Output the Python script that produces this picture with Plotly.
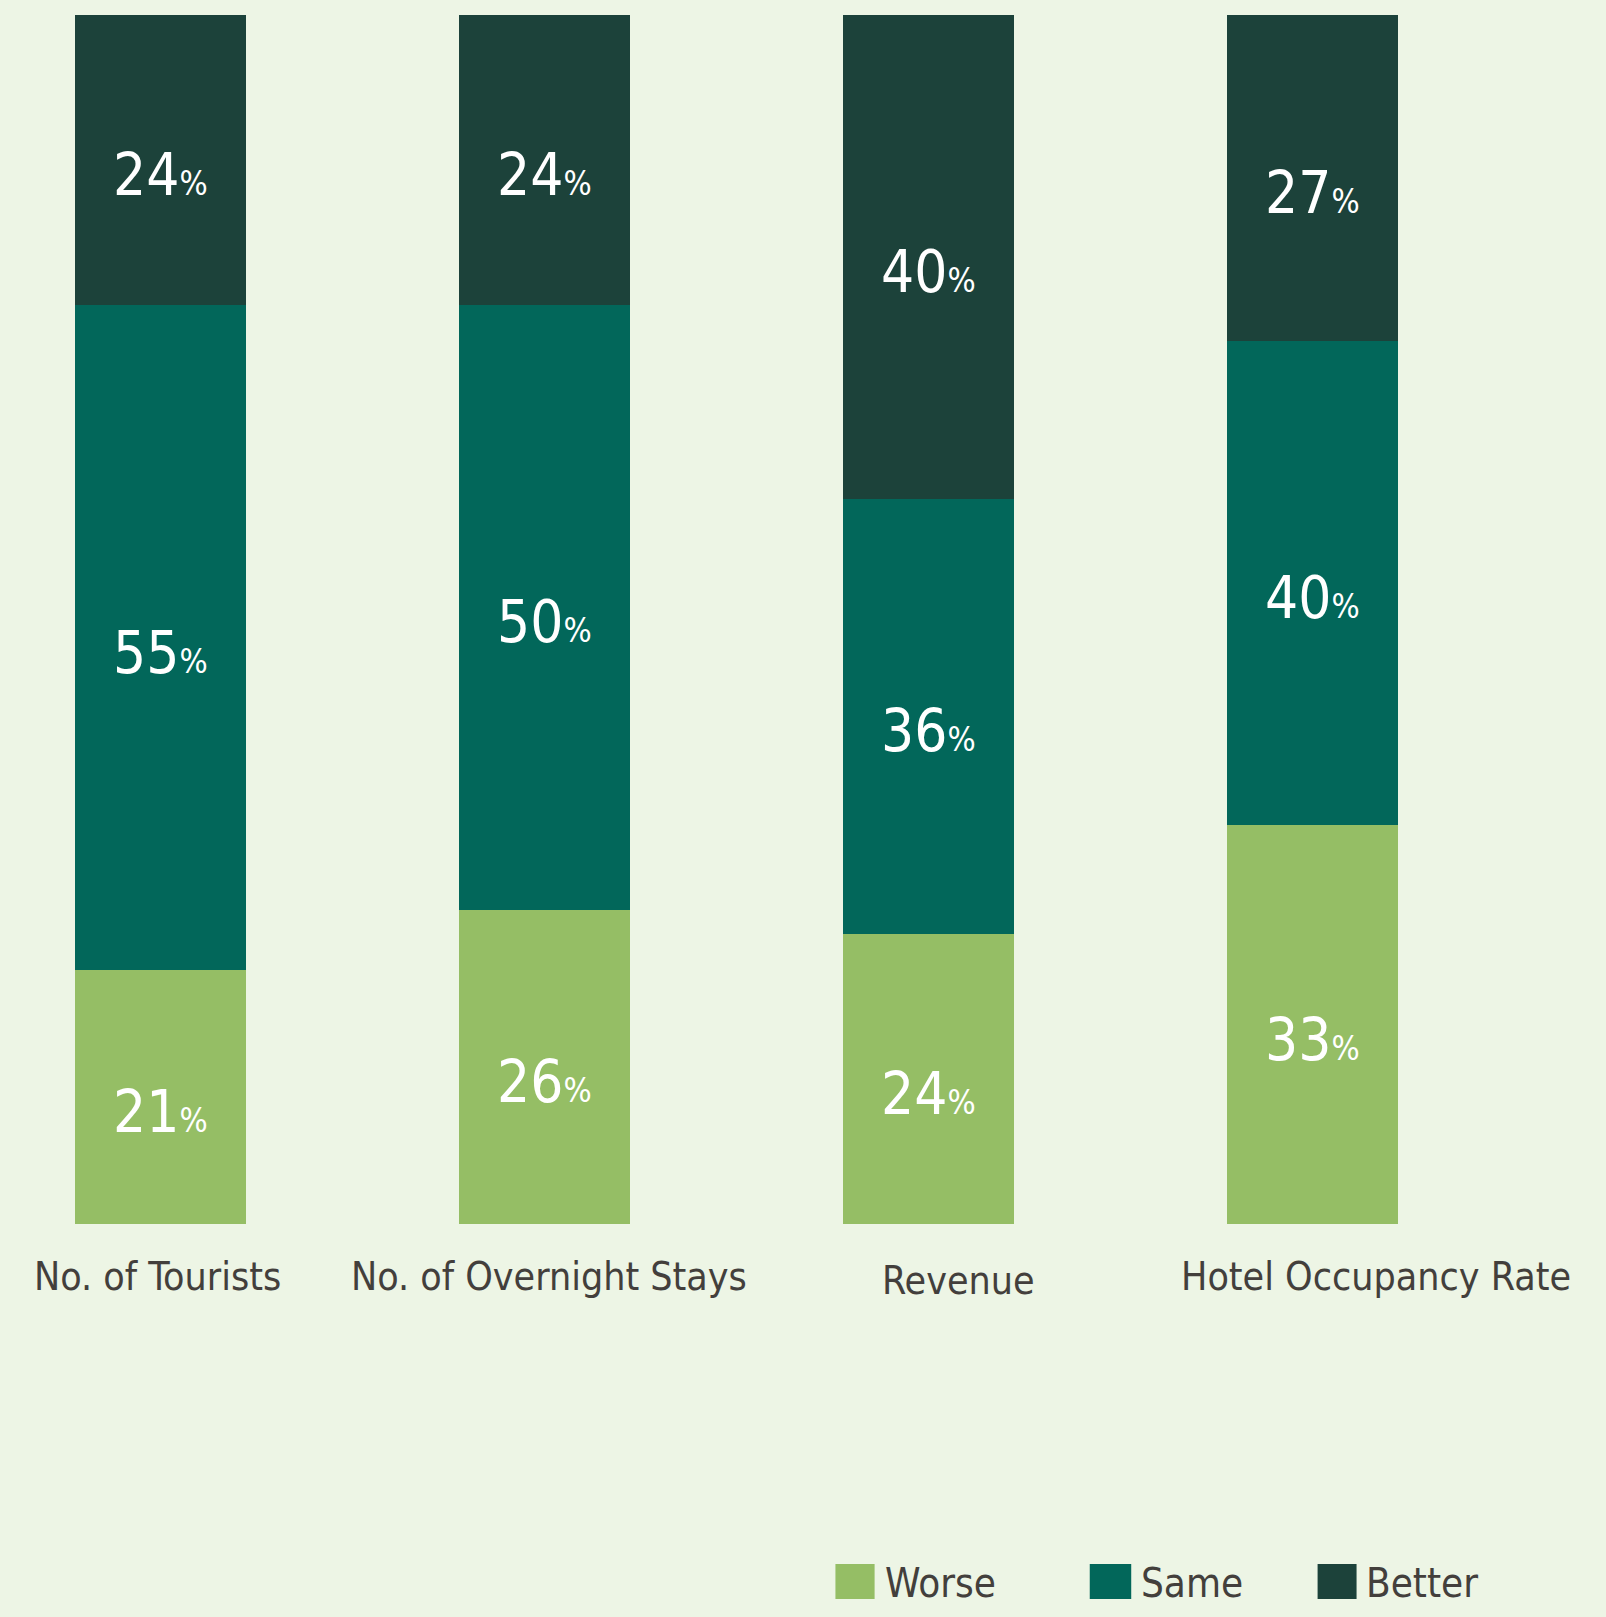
import plotly.graph_objects as go

categories = ["No. of Tourists", "No. of Overnight Stays", "Revenue", "Hotel Occupancy Rate"]
worse = [21, 26, 24, 33]
same = [55, 50, 36, 40]
better = [24, 24, 40, 27]
series_names = ["Worse", "Same", "Better"]
colors = ["#95BE65", "#02675A", "#1C423A"]
BG = "#EDF5E5"
TXT = "#433F3C"
FONT = "DejaVu Sans Condensed, DejaVu Sans, sans-serif"

# layout geometry (pixels)
L, W, T, H = 25.5, 1422.0, 15.0, 1209.0
FIG_W, FIG_H = 1606, 1617


def pxx(x):
    return (x - L) / W


def pxy(y):
    return (T + H - y) / H


fig = go.Figure()
series = [worse, same, better]
for name, vals, col in zip(series_names, series, colors):
    fig.add_trace(go.Bar(x=categories, y=vals, name=name, marker=dict(color=col, line=dict(width=0)),
                         width=0.445, showlegend=False))

annotations = []
# value labels
for i, cat in enumerate(categories):
    base = 0
    for vals in series:
        v = vals[i]
        annotations.append(dict(
            x=cat, y=base + v / 2, xref="x", yref="y", yshift=-15, showarrow=False,
            text=f"{v}<span style='font-size:33px'>%</span>",
            font=dict(family=FONT, size=58, color="white"),
        ))
        base += v

# category labels
label_shift = [-3, 5, 30, 63]
label_y = [1276, 1276, 1280, 1276]
for cat, dx, ly in zip(categories, label_shift, label_y):
    annotations.append(dict(
        x=cat, xref="x", y=pxy(ly), yref="paper", xshift=dx, showarrow=False,
        text=cat, font=dict(family=FONT, size=39, color=TXT), xanchor="center", yanchor="middle",
    ))

# manual legend
shapes = []
legend_sq = [(835.5, 874.7), (1090.0, 1131.5), (1318.0, 1357.0)]
legend_tx = [883, 1139, 1364]
for name, col, (x0, x1), tx in zip(series_names, colors, legend_sq, legend_tx):
    shapes.append(dict(type="rect", xref="paper", yref="paper", x0=pxx(x0), x1=pxx(x1),
                       y0=pxy(1599), y1=pxy(1564), fillcolor=col, line=dict(width=0)))
    annotations.append(dict(
        x=pxx(tx), xref="paper", y=pxy(1583), yref="paper", showarrow=False, text=name,
        font=dict(family=FONT, size=40, color=TXT), xanchor="left", yanchor="middle",
    ))

fig.update_layout(
    barmode="stack",
    width=FIG_W, height=FIG_H,
    paper_bgcolor=BG, plot_bgcolor=BG,
    margin=dict(l=L, r=FIG_W - L - W, t=T, b=FIG_H - T - H, autoexpand=False),
    xaxis=dict(showticklabels=False, showgrid=False, zeroline=False, showline=False, ticks="",
               range=[-0.35, 3.35]),
    yaxis=dict(visible=False, range=[0, 100], showgrid=False, zeroline=False),
    annotations=annotations,
    shapes=shapes,
    showlegend=False,
)

fig.write_html("out.html", config={"displayModeBar": False})
